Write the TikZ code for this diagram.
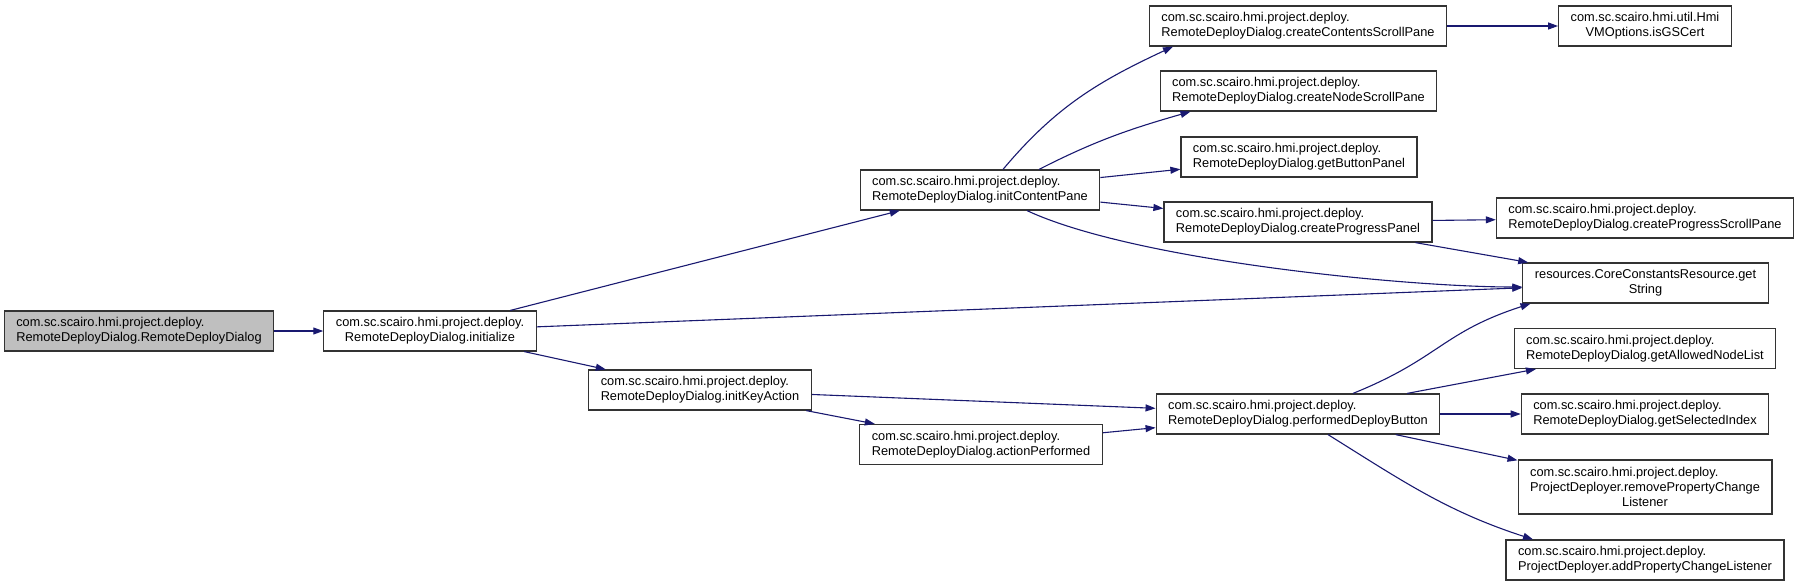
\documentclass[tikz,border=0pt]{standalone}
\usepackage{fontspec}
\setmainfont{Liberation Sans}
\usepackage{xcolor}
\usetikzlibrary{arrows.meta,positioning}
\definecolor{callblue}{HTML}{191970}
\definecolor{rootgray}{HTML}{BFBFBF}
\tikzset{
  callarr/.style={-{Triangle[length=10pt,width=7pt]}, line width=1.1pt, draw=callblue},
  callnode/.style={draw=black!80, line width=1.2pt, fill=white, align=left,
    inner xsep=12pt, inner ysep=3pt, minimum height=40pt},
}

\begin{document}
\begin{tikzpicture}[
  x=1pt, y=1pt,
  font=\fontsize{12.8}{15}\selectfont,
  rootnode/.style={callnode, fill=rootgray},
]
  \useasboundingbox (0,0) rectangle (1800,-587);

  % caller chain
  \node[rootnode] (ctor) at (139,-331) {com.sc.scairo.hmi.project.deploy.\\RemoteDeployDialog.RemoteDeployDialog};
  \node[callnode, align=center] (initialize) at (430,-331) {com.sc.scairo.hmi.project.deploy.\\RemoteDeployDialog.initialize};
  \node[callnode] (initContent) at (980,-190) {com.sc.scairo.hmi.project.deploy.\\RemoteDeployDialog.initContentPane};
  \node[callnode] (initKey) at (700,-390) {com.sc.scairo.hmi.project.deploy.\\RemoteDeployDialog.initKeyAction};
  \node[callnode] (actPerf) at (981,-444.5) {com.sc.scairo.hmi.project.deploy.\\RemoteDeployDialog.actionPerformed};
  \node[callnode] (deployBtn) at (1298,-414) {com.sc.scairo.hmi.project.deploy.\\RemoteDeployDialog.performedDeployButton};

  % third column
  \node[callnode] (contentsPane) at (1298,-26) {com.sc.scairo.hmi.project.deploy.\\RemoteDeployDialog.createContentsScrollPane};
  \node[callnode] (nodePane) at (1298.5,-91) {com.sc.scairo.hmi.project.deploy.\\RemoteDeployDialog.createNodeScrollPane};
  \node[callnode] (buttonPanel) at (1299,-157) {com.sc.scairo.hmi.project.deploy.\\RemoteDeployDialog.getButtonPanel};
  \node[callnode] (progPanel) at (1298,-222) {com.sc.scairo.hmi.project.deploy.\\RemoteDeployDialog.createProgressPanel};

  % last column
  \node[callnode, align=center] (gsCert) at (1645,-26) {com.sc.scairo.hmi.util.Hmi\\VMOptions.isGSCert};
  \node[callnode] (progPane) at (1645,-218) {com.sc.scairo.hmi.project.deploy.\\RemoteDeployDialog.createProgressScrollPane};
  \node[callnode, align=center] (getStr) at (1645.5,-283) {resources.CoreConstantsResource.get\\String};
  \node[callnode] (nodeList) at (1645,-348.5) {com.sc.scairo.hmi.project.deploy.\\RemoteDeployDialog.getAllowedNodeList};
  \node[callnode] (selIndex) at (1645,-414) {com.sc.scairo.hmi.project.deploy.\\RemoteDeployDialog.getSelectedIndex};
  \node[callnode, align=center, minimum height=54pt] (removeListener) at (1645,-487)
    {\rlap{com.sc.scairo.hmi.project.deploy.}\phantom{ProjectDeployer.removePropertyChange}\\ProjectDeployer.removePropertyChange\\Listener};
  \node[callnode] (addListener) at (1645,-560) {com.sc.scairo.hmi.project.deploy.\\ProjectDeployer.addPropertyChangeListener};

  \draw[callarr] (ctor) -- (initialize);
  \draw[callarr] (initialize) -- (initContent);
  \draw[callarr] (initialize) -- (getStr);
  \draw[callarr] (initialize) -- (initKey);

  \draw[callarr] ([xshift=23pt]initContent.north) to[out=50, in=205] ([xshift=-125pt]contentsPane.south);
  \draw[callarr] ([xshift=59pt]initContent.north) to[out=27, in=196] ([xshift=-108pt]nodePane.south);
  \draw[callarr] (initContent) -- (buttonPanel);
  \draw[callarr] (initContent) -- (progPanel);
  \draw[callarr] ([xshift=47pt]initContent.south) to[out=-25, in=180, looseness=0.6] ([yshift=-4pt]getStr.west);

  \draw[callarr] (contentsPane) -- (gsCert);
  \draw[callarr] (progPanel) -- (progPane);
  \draw[callarr] (progPanel) -- (getStr);

  \draw[callarr] (initKey) -- (deployBtn);
  \draw[callarr] (initKey) -- (actPerf);
  \draw[callarr] (actPerf) -- (deployBtn);

  \draw[callarr] ([xshift=55pt]deployBtn.north) to[out=22, in=198, looseness=1.2] ([xshift=-115pt]getStr.south);
  \draw[callarr] (deployBtn) -- (nodeList);
  \draw[callarr] (deployBtn) -- (selIndex);
  \draw[callarr] (deployBtn) -- (removeListener);
  \draw[callarr] ([xshift=30pt]deployBtn.south) to[out=-32, in=162] ([xshift=-112pt]addListener.north);
\end{tikzpicture}
\end{document}
